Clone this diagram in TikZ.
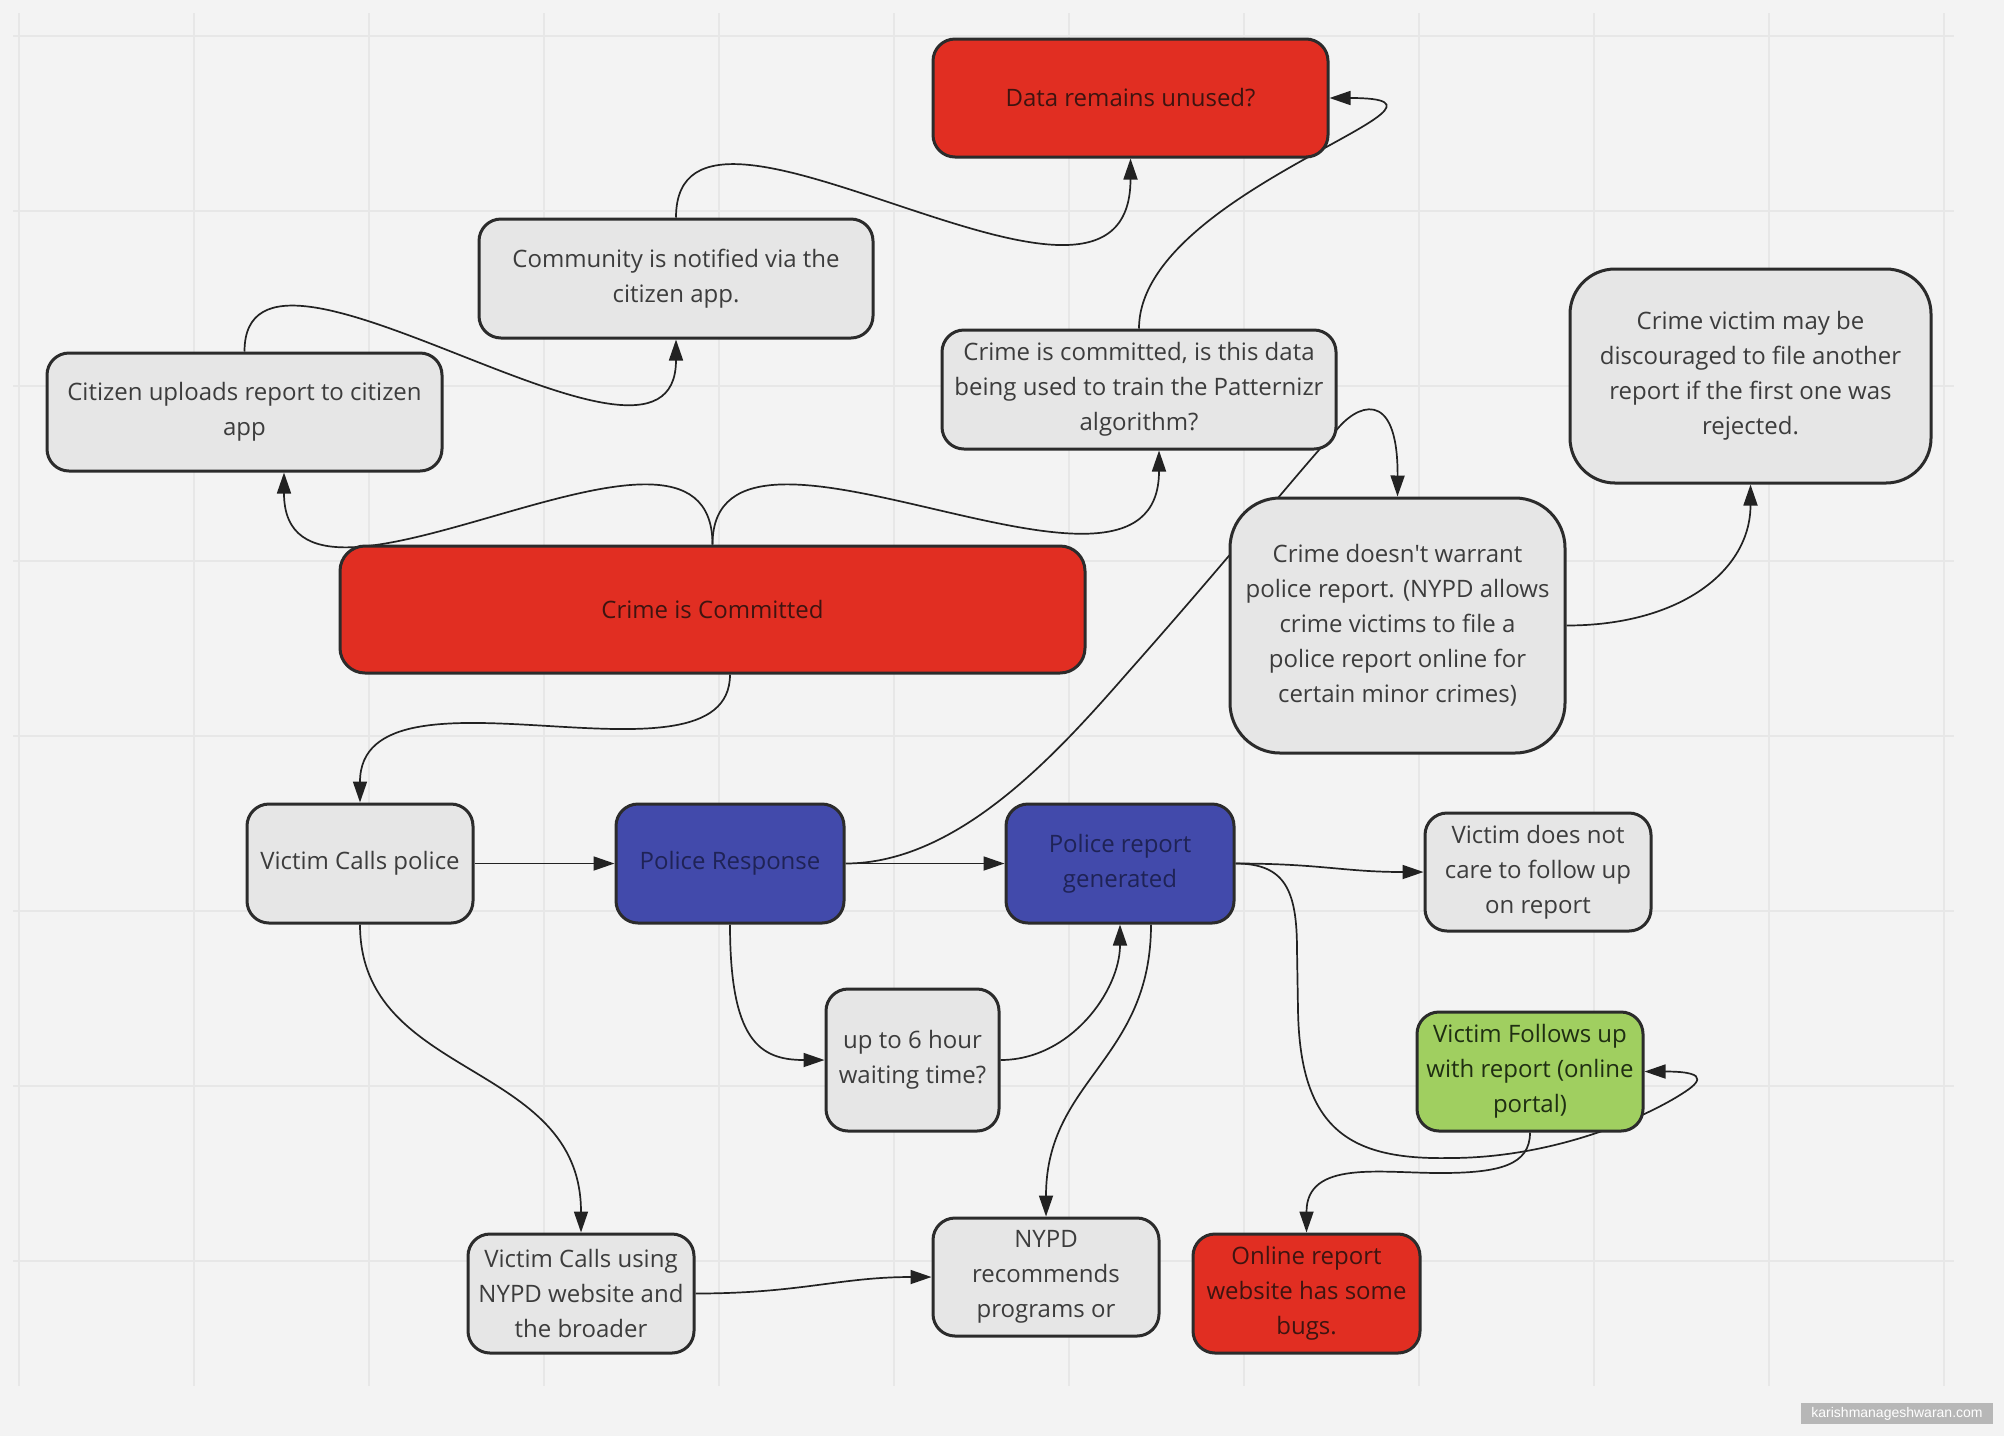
\documentclass[tikz,border=0pt]{standalone}
\usepackage{fontspec}
\setmainfont{Open Sans}
\newfontfamily\wmfont{Liberation Sans}
\usetikzlibrary{arrows.meta}
\pgfdeclarelayer{bg}
\pgfdeclarelayer{edges}
\pgfsetlayers{bg,edges,main}
\definecolor{bgc}{HTML}{F3F3F3}
\definecolor{gridc}{HTML}{E7E7E7}
\definecolor{grayc}{HTML}{E6E6E6}
\definecolor{bordc}{HTML}{2B2B2B}
\definecolor{redc}{HTML}{E12E22}
\definecolor{bluec}{HTML}{424AAB}
\definecolor{greenc}{HTML}{A0CF60}
\definecolor{linec}{HTML}{222222}
\definecolor{txtgray}{HTML}{3C3C3C}
\definecolor{txtred}{HTML}{3E1410}
\definecolor{txtblue}{HTML}{1F2356}
\definecolor{txtgreen}{HTML}{1F2E12}
\definecolor{wmc}{HTML}{B7B7B7}
\begin{document}
\begin{tikzpicture}[x=1pt,y=-1pt,
  box/.style={draw=bordc, line width=3pt, rounded corners=22pt, align=center, inner sep=0pt, font=\fontsize{24}{35}\selectfont},
  graybox/.style={box, fill=grayc, text=txtgray},
  redbox/.style={box, fill=redc, text=txtred},
  bluebox/.style={box, fill=bluec, text=txtblue},
  greenbox/.style={box, fill=greenc, text=txtgreen},
  conn/.style={line width=1.7pt, draw=linec, -{Triangle[length=21pt,width=14pt]}},
  gridline/.style={draw=gridc, line width=2pt}
]
\useasboundingbox (0,0) rectangle (2004,1436);
\begin{pgfonlayer}{bg}
\fill[bgc] (0,0) rectangle (2004,1436);
\foreach \i in {0,...,11} \draw[gridline] ({19+175*\i},13) -- ({19+175*\i},1386);
\foreach \j in {0,...,7} \draw[gridline] (13,{36+175*\j}) -- (1954,{36+175*\j});
\end{pgfonlayer}

\node[redbox, minimum width=395pt, minimum height=118pt] (data) at (1130.5,98) {Data remains unused?};
\node[graybox, minimum width=394pt, minimum height=119pt] (community) at (676,278.5) {Community is notified via the\\citizen app.};
\node[graybox, minimum width=395pt, minimum height=118pt] (citizen) at (244.5,412) {Citizen uploads report to citizen\\app};
\node[graybox, minimum width=394pt, minimum height=119pt] (training) at (1139,389.5) {Crime is committed, is this data\\being used to train the Patternizr\\algorithm?};
\node[graybox, rounded corners=45pt, minimum width=361pt, minimum height=214pt] (discouraged) at (1750.5,376) {Crime victim may be\\discouraged to file another\\report if the first one was\\rejected.};
\node[redbox, rounded corners=25pt, minimum width=745pt, minimum height=127pt] (crime) at (712.5,609.5) {Crime is Committed};
\node[graybox, rounded corners=50pt, minimum width=335pt, minimum height=255pt] (nowarrant) at (1397.5,625.5) {Crime doesn\textquotesingle t warrant\\police report. (NYPD allows\\crime victims to file a\\police report online for\\certain minor crimes)};
\node[graybox, minimum width=226pt, minimum height=119pt] (calls) at (360,863.5) {Victim Calls police};
\node[bluebox, minimum width=228pt, minimum height=119pt] (response) at (730,863.5) {Police Response};
\node[bluebox, minimum width=228pt, minimum height=119pt] (report) at (1120,863.5) {Police report\\generated};
\node[graybox, minimum width=226pt, minimum height=118pt] (nocare) at (1538,872) {Victim does not\\care to follow up\\on report};
\node[graybox, minimum width=173pt, minimum height=142pt] (wait) at (912.5,1060) {up to 6 hour\\waiting time?};
\node[greenbox, minimum width=226pt, minimum height=119pt] (follows) at (1530,1071.5) {Victim Follows up\\with report (online\\portal)};
\node[graybox, minimum width=226pt, minimum height=119pt] (website) at (581,1293.5) {Victim Calls using\\NYPD website and\\the broader};
\node[graybox, minimum width=226pt, minimum height=118pt] (nypd) at (1046,1277) {NYPD\\recommends\\programs or};
\node[redbox, minimum width=227pt, minimum height=119pt] (online) at (1306.5,1293.5) {Online report\\website has some\\bugs.};
\node[fill=wmc, text=white, inner sep=0pt, minimum width=192pt, minimum height=21pt, font=\wmfont\fontsize{14}{16}\selectfont] (wm) at (1897,1413.5) {karishmanageshwaran.com};

\begin{pgfonlayer}{edges}
\draw[conn] (crime.north) .. controls +(0,-180) and +(0,190) .. ([xshift=39.5pt]citizen.south);
\draw[conn] (crime.north) .. controls +(0,-175) and +(0,200) .. ([xshift=20pt]training.south);
\draw[conn] (citizen.north) .. controls +(0,-162) and +(0,181) .. (community.south);
\draw[conn] (community.north) .. controls +(0,-178) and +(0,222) .. (data.south);
\draw[conn] (training.north) .. controls +(0,-139) and +(171,0) .. (data.east);
\draw[conn] (response.east) .. controls (960,863.5) and (1060,750) .. (1130,670) .. controls (1230,557) and (1300,470) .. (1335,432) .. controls (1355,405) and (1398,385) .. (nowarrant.north);
\draw[conn] (calls.east) -- (response.west);
\draw[conn] (response.east) -- (report.west);
\draw[conn] (report.east) .. controls +(85,0) and +(-80,0) .. (nocare.west);
\draw[conn] (report.east) .. controls (1285,863.5) and (1297,890) .. (1297,950) -- (1298,1010) .. controls (1300,1130) and (1350,1160) .. (1450,1158) .. controls (1550,1158) and (1640,1120) .. (1680,1095) .. controls (1696,1085) and (1715,1071.5) .. (follows.east);
\draw[conn] (follows.south) .. controls (1530,1165) and (1500,1173) .. (1440,1173) .. controls (1380,1173) and (1306.5,1160) .. (online.north);
\draw[conn] (response.south) .. controls +(0,116) and +(-65,0) .. (wait.west);
\draw[conn] (wait.east) .. controls +(70,0) and +(0,66) .. (report.south);
\draw[conn] ([xshift=31pt]report.south) .. controls +(0,136) and +(0,-137) .. (nypd.north);
\draw[conn] (calls.south) .. controls +(0,156) and +(0,-173) .. (website.north);
\draw[conn] (website.east) .. controls +(105,0) and +(-92,0) .. (nypd.west);
\draw[conn] ([xshift=17.5pt]crime.south) .. controls +(0,126) and +(0,-153) .. (calls.north);
\draw[conn] (nowarrant.east) .. controls +(114,0) and +(0,86) .. (discouraged.south);
\end{pgfonlayer}
\end{tikzpicture}
\end{document}
